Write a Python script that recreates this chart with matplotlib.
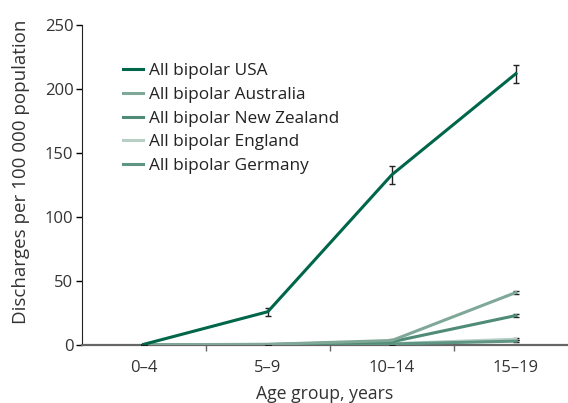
import numpy as np
import matplotlib.pyplot as plt
from matplotlib.lines import Line2D

plt.rcParams["font.family"] = ["Open Sans", "DejaVu Sans"]

# data
groups = ["0\u20134", "5\u20139", "10\u201314", "15\u201319"]
series = ["All bipolar USA", "All bipolar Australia", "All bipolar New Zealand",
          "All bipolar England", "All bipolar Germany"]
usa = [0.5, 26, 133, 212]
usa_err = [0.3, 3, 7, 7]
australia = [0.2, 0.5, 3.5, 41]
australia_err = [0.1, 0.3, 0.8, 1.5]
new_zealand = [0.2, 0.4, 2.5, 23]
new_zealand_err = [0.1, 0.3, 0.8, 1.5]
england = [0.1, 0.3, 1.0, 4.5]
england_err = [0.1, 0.2, 0.5, 0.8]
germany = [0.1, 0.2, 0.8, 3]
germany_err = [0.1, 0.2, 0.5, 0.8]

values = [usa, australia, new_zealand, england, germany]
errors = [usa_err, australia_err, new_zealand_err, england_err, germany_err]
colors = ["#00664a", "#80a898", "#4f8b76", "#b7cfc5", "#5f9583"]

fig = plt.figure(figsize=(5.68, 4.03), dpi=100)
ax = fig.add_axes([0.144, 0.144, 0.856, 0.794])

x = np.arange(len(groups))
# draw the light ones first so USA sits on top
for i in [3, 4, 2, 1, 0]:
    ax.errorbar(x, values[i], yerr=errors[i], color=colors[i], lw=2.2,
                ecolor="#222222", elinewidth=1, capsize=2.5, capthick=1,
                zorder=3 + (i == 0))

handles = [Line2D([], [], color=c, lw=2.2) for c in colors]
ax.legend(handles, series, loc="upper left", bbox_to_anchor=(0.07, 0.902),
          frameon=False, fontsize=12.4, handlelength=1.2, handletextpad=0.35,
          labelspacing=0.44, labelcolor="#222222", borderaxespad=0)

ax.set_xlim(-0.5, 3.42)
ax.set_ylim(0, 250)
ax.set_yticks(np.arange(0, 251, 50))
ax.set_xticks(x)
ax.set_xticklabels(groups)
ax.set_xticks([0.5, 1.5, 2.5], minor=True)
ax.tick_params(axis="x", which="major", length=0, pad=11, labelsize=12, labelcolor="#333333")
ax.tick_params(axis="x", which="minor", length=4, width=1, color="#666666")
ax.tick_params(axis="y", length=4, width=1, labelsize=12, labelcolor="#333333", pad=2)

ax.spines["top"].set_visible(False)
ax.spines["right"].set_visible(False)
ax.spines["left"].set_color("#222222")
ax.spines["bottom"].set_color("#666666")
ax.spines["bottom"].set_linewidth(1.6)

ax.set_xlabel("Age group, years", fontsize=12.7, color="#333333", labelpad=6)
ax.set_ylabel("Discharges per 100 000 population", fontsize=13.5, color="#333333")
ax.yaxis.set_label_coords(-0.106, 0.54)

fig.savefig("out.png", dpi=100)
